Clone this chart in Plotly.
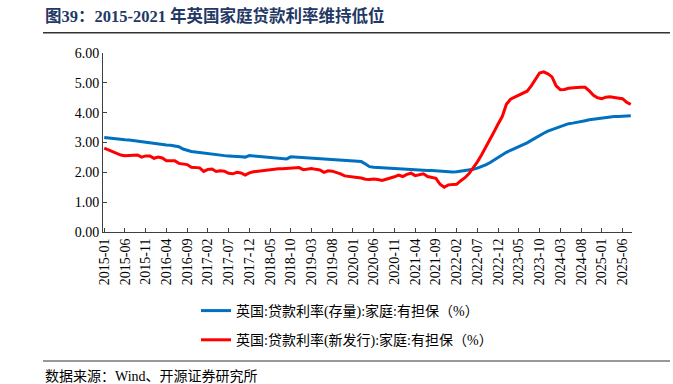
import pandas as pd
import plotly.graph_objects as go

months = pd.date_range("2015-01-01", periods=128, freq="MS").strftime("%Y-%m").tolist()

stock_rate = [
    3.17, 3.15, 3.14, 3.12, 3.11, 3.09, 3.08, 3.06, 3.05, 3.03,
    3.01, 2.99, 2.97, 2.96, 2.94, 2.92, 2.91, 2.89, 2.86, 2.78,
    2.73, 2.70, 2.68, 2.66, 2.64, 2.62, 2.61, 2.59, 2.58, 2.56,
    2.55, 2.55, 2.53, 2.52, 2.51, 2.56, 2.55, 2.54, 2.53, 2.52,
    2.50, 2.49, 2.48, 2.47, 2.45, 2.52, 2.51, 2.50, 2.49, 2.48,
    2.47, 2.46, 2.45, 2.44, 2.42, 2.41, 2.40, 2.39, 2.39, 2.38,
    2.38, 2.37, 2.36, 2.28, 2.19, 2.17, 2.16, 2.15, 2.14, 2.13,
    2.12, 2.11, 2.10, 2.09, 2.09, 2.08, 2.08, 2.07, 2.06, 2.06,
    2.05, 2.03, 2.02, 2.01, 2.01, 2.02, 2.04, 2.05, 2.07, 2.10,
    2.14, 2.19, 2.25, 2.32, 2.41, 2.50, 2.58, 2.67, 2.74, 2.80,
    2.87, 2.93, 2.99, 3.07, 3.16, 3.24, 3.31, 3.38, 3.43, 3.48,
    3.53, 3.58, 3.63, 3.65, 3.67, 3.70, 3.73, 3.76, 3.78, 3.80,
    3.81, 3.83, 3.85, 3.87, 3.87, 3.88, 3.89, 3.90,
]

new_rate = [
    2.81, 2.75, 2.68, 2.63, 2.58, 2.56, 2.57, 2.57, 2.58, 2.51,
    2.55, 2.55, 2.47, 2.51, 2.48, 2.39, 2.39, 2.39, 2.30, 2.29,
    2.26, 2.17, 2.17, 2.15, 2.03, 2.10, 2.11, 2.03, 2.05, 2.04,
    1.97, 1.95, 2.00, 1.98, 1.91, 1.98, 2.02, 2.04, 2.06, 2.07,
    2.10, 2.11, 2.12, 2.12, 2.13, 2.13, 2.14, 2.16, 2.09, 2.10,
    2.13, 2.10, 2.08, 2.00, 2.05, 2.04, 2.00, 1.95, 1.88, 1.87,
    1.86, 1.83, 1.81, 1.77, 1.76, 1.78, 1.76, 1.73, 1.77, 1.80,
    1.85, 1.91, 1.86, 1.93, 1.97, 1.89, 1.92, 1.95, 1.86, 1.84,
    1.80, 1.60, 1.50, 1.58, 1.59, 1.60, 1.72, 1.82, 1.96, 2.14,
    2.35, 2.58, 2.82, 3.08, 3.35, 3.62, 3.87, 4.28, 4.45, 4.52,
    4.59, 4.66, 4.72, 4.90, 5.13, 5.33, 5.37, 5.30, 5.20, 4.90,
    4.77, 4.78, 4.82, 4.84, 4.84, 4.85, 4.85, 4.73, 4.58, 4.50,
    4.47, 4.52, 4.53, 4.51, 4.50, 4.47, 4.35, 4.28,
]

tick_labels = months[::5]

series_names = [
    "英国:贷款利率(存量):家庭:有担保（%）",
    "英国:贷款利率(新发行):家庭:有担保（%）",
]

title_text = "图39：2015-2021 年英国家庭贷款利率维持低位"
source_text = "数据来源：Wind、开源证券研究所"

FONT = "Liberation Serif, Times New Roman, Noto Sans CJK SC, serif"

fig = go.Figure()
fig.add_trace(go.Scatter(x=months, y=stock_rate, mode="lines", name=series_names[0],
                         line=dict(color="#0070C0", width=3), legendgroup="a"))
fig.add_trace(go.Scatter(x=months, y=new_rate, mode="lines", name=series_names[1],
                         line=dict(color="#FF0000", width=3), legendgroup="b"))

W, H = 673, 384
L, R, T, B = 103, 41, 53, 152
pw, ph = W - L - R, H - T - B

def px(x):
    return (x - L) / pw

def py(y):
    return (H - B - y) / ph

rule_style = dict(xref="paper", yref="paper", xanchor="left", yanchor="middle",
                  showarrow=False, text=" ", width=627, height=1, borderpad=0,
                  borderwidth=0, bgcolor="#333333", font=dict(size=1))

fig.update_layout(
    width=W, height=H,
    margin=dict(l=L, r=R, t=T, b=B, autoexpand=False),
    paper_bgcolor="white", plot_bgcolor="white",
    font=dict(family=FONT, size=14, color="#000000"),
    showlegend=True,
    legend=dict(x=px(196), y=py(295), xanchor="left", yanchor="top",
                orientation="v", tracegroupgap=8,
                font=dict(family=FONT, size=14, color="#000000"),
                bgcolor="rgba(0,0,0,0)"),
    xaxis=dict(type="category", range=[-0.3, 127.3], automargin=False,
               tickmode="array", tickvals=tick_labels, ticktext=tick_labels,
               tickangle=-90, ticks="inside", ticklen=4, tickcolor="#404040",
               showline=True, linecolor="#404040", linewidth=1,
               showgrid=False, zeroline=False,
               tickfont=dict(family=FONT, size=14)),
    yaxis=dict(range=[0, 6], dtick=1, tickformat=".2f", automargin=False,
               ticks="inside", ticklen=4, tickcolor="#404040",
               showline=True, linecolor="#404040", linewidth=1,
               showgrid=False, zeroline=False,
               tickfont=dict(family=FONT, size=14)),
    annotations=[
        dict(text="<b>" + title_text + "</b>", xref="paper", yref="paper",
             x=px(43), y=py(16), xanchor="left", yanchor="middle", showarrow=False,
             font=dict(family=FONT, size=16.5, color="#1F3864")),
        dict(text=source_text, xref="paper", yref="paper",
             x=px(43), y=py(376), xanchor="left", yanchor="middle", showarrow=False,
             font=dict(family=FONT, size=14, color="#000000")),
        dict(x=px(43), y=py(33), **rule_style),
    ],
    shapes=[
        dict(type="line", xref="paper", yref="paper", x0=px(43), x1=px(670),
             y0=py(33), y1=py(33), layer="above", line=dict(color="#333333", width=1.2)),
        dict(type="line", xref="paper", yref="paper", x0=px(43), x1=px(670),
             y0=py(361), y1=py(361), layer="above", line=dict(color="#333333", width=1.2)),
    ],
)

fig.write_html("out.html", config={"displayModeBar": False},
               post_script="document.body.style.margin='0';document.body.style.overflow='hidden';")
